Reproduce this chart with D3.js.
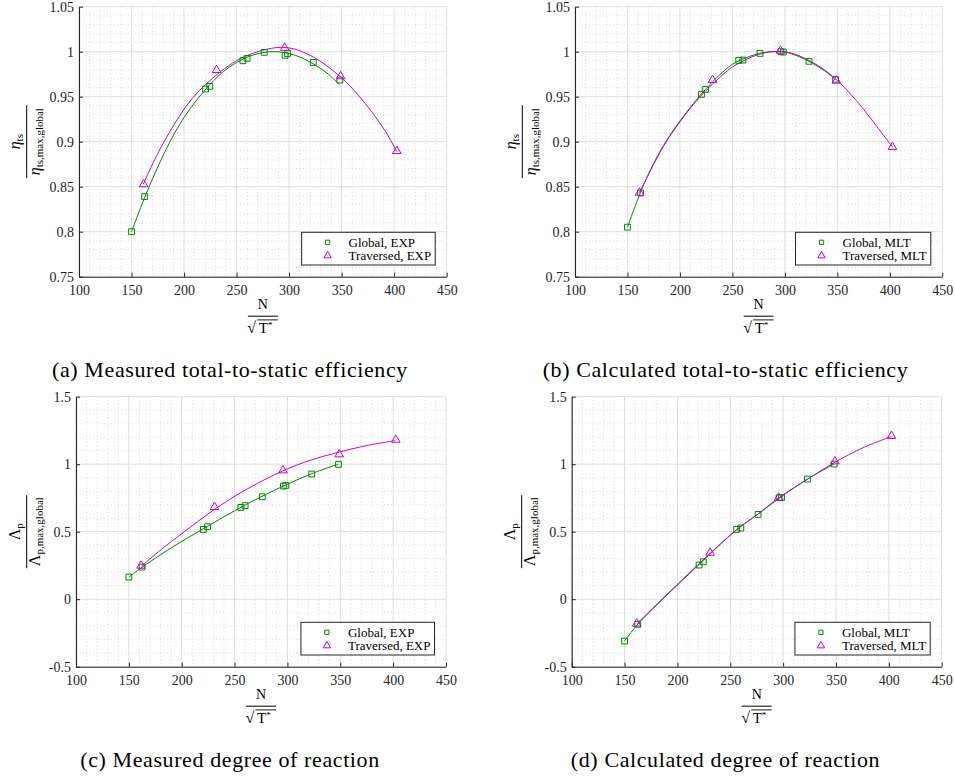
<!DOCTYPE html>
<html>
<head>
<meta charset="utf-8">
<script src="https://cdn.jsdelivr.net/npm/d3@7"></script>
<style>
  body { margin: 0; background: #fff; }
  svg text { font-family: "Liberation Serif", "Times New Roman", serif; }
</style>
</head>
<body>
<svg id="fig" width="955" height="778"></svg>
<script>
// speed parameter N / sqrt(T*) of the operating points
const nGlobal = [150, 162.5, 220.5, 224.5, 256, 260, 276.3, 296.2, 298.5, 323, 348.3]
const nTraversed = [161.5, 231, 295.8, 349, 402.5]

// normalised total-to-static efficiency
const effGlobalExp = [0.800, 0.839, 0.9585, 0.9615, 0.990, 0.9926, 0.9993, 0.996, 0.998, 0.988, 0.9685]
const effTravExp = [0.8526, 0.9796, 1.0044, 0.9726, 0.8896]
const effGlobalMlt = [0.805, 0.843, 0.9526, 0.9581, 0.9904, 0.9907, 0.9981, 1.0, 0.9996, 0.9893, 0.9693]
const effTravMlt = [0.8433, 0.9685, 1.0011, 0.9678, 0.8941]

// normalised degree of reaction
const reacGlobalExp = [0.164, 0.238, 0.517, 0.537, 0.680, 0.693, 0.759, 0.838, 0.843, 0.927, 0.999]
const reacTravExp = [0.248, 0.683, 0.954, 1.073, 1.181]
const reacGlobalMlt = [-0.310, -0.186, 0.253, 0.277, 0.517, 0.527, 0.628, 0.752, 0.752, 0.890, 1.001]
const reacTravMlt = [-0.181, 0.344, 0.752, 1.021, 1.209]

// fitted trend lines as [N, value]
const fitEffGlobalExp = [[150, 0.800], [162.5, 0.838], [175, 0.872], [187.5, 0.902], [200, 0.927], [212.5, 0.947],
  [225, 0.964], [237.5, 0.978], [250, 0.988], [262.5, 0.995], [275, 0.999], [287.5, 1.000], [300, 0.998],
  [312.5, 0.993], [325, 0.985], [337.5, 0.975], [348, 0.963]]
const fitEffTravExp = [[161.2, 0.853], [175, 0.887], [190, 0.918], [205, 0.944], [220, 0.963], [235, 0.978],
  [250, 0.990], [265, 0.998], [280, 1.003], [292, 1.0048], [305, 1.003], [320, 0.996], [335, 0.985],
  [350, 0.971], [365, 0.953], [380, 0.931], [392, 0.911], [402.4, 0.889]]
const fitEffGlobalMlt = [[150, 0.805], [162.5, 0.844], [175, 0.876], [187.5, 0.902], [200, 0.923], [212.5, 0.942],
  [225, 0.959], [237.5, 0.974], [250, 0.986], [262.5, 0.993], [275, 0.998], [287.5, 1.000], [300, 0.9995],
  [312.5, 0.995], [325, 0.988], [337.5, 0.979], [348.4, 0.969]]
const fitEffTravMlt = [[161.3, 0.843], [175, 0.875], [187.5, 0.901], [200, 0.922], [212.5, 0.941], [225, 0.957],
  [237.5, 0.971], [250, 0.983], [262.5, 0.991], [275, 0.997], [287.5, 1.000], [300, 1.000], [312.5, 0.996],
  [325, 0.989], [337.5, 0.980], [350, 0.968], [362.5, 0.953], [375, 0.936], [387.5, 0.917], [402.7, 0.894]]
const fitReacGlobalExp = [[150, 0.164], [162.4, 0.236], [190, 0.38], [220, 0.52], [250, 0.655],
  [276, 0.762], [300, 0.852], [323, 0.93], [348, 1.0]]
const fitReacTravExp = [[162, 0.245], [181, 0.37], [200, 0.485], [231, 0.665], [260, 0.808],
  [295.5, 0.95], [322, 1.03], [349, 1.09], [375, 1.138], [402, 1.175]]
const fitReacGlobalMlt = [[150, -0.31], [162, -0.19], [190, 0.03], [220, 0.253], [256, 0.515],
  [276, 0.628], [297, 0.752], [323, 0.89], [348, 1.0]]
const fitReacTravMlt = [[161.5, -0.183], [190, 0.035], [231, 0.34], [256, 0.515], [276, 0.63],
  [296, 0.752], [323, 0.888], [349, 1.015], [375, 1.12], [402.4, 1.205]]

const xTicks = [100, 150, 200, 250, 300, 350, 400, 450]
const effTicks = [0.75, 0.8, 0.85, 0.9, 0.95, 1, 1.05]
const reacTicks = [-0.5, 0, 0.5, 1, 1.5]

const green = '#008a00'
const magenta = '#cc00cc'
const axisColor = '#262626'

const panels = [
  { left: 79, top: 6.7, width: 367.7, height: 270, labelX: 26.7, yDomain: [0.75, 1.05], yTicks: effTicks, minorCount: 30,
    sym: 'η', symItalic: true, sub: 'ts', tag: 'EXP', g: effGlobalExp, t: effTravExp, fitG: fitEffGlobalExp, fitT: fitEffTravExp,
    caption: '(a) Measured total-to-static efficiency', capX: 230, capY: 377.3 },
  { left: 575, top: 6.7, width: 367.3, height: 270, labelX: 522.3, yDomain: [0.75, 1.05], yTicks: effTicks, minorCount: 30,
    sym: 'η', symItalic: true, sub: 'ts', tag: 'MLT', g: effGlobalMlt, t: effTravMlt, fitG: fitEffGlobalMlt, fitT: fitEffTravMlt,
    caption: '(b) Calculated total-to-static efficiency', capX: 725.5, capY: 377.3 },
  { left: 76, top: 396.7, width: 370, height: 270, labelX: 26.7, yDomain: [-0.5, 1.5], yTicks: reacTicks, minorCount: 20,
    sym: 'Λ', symItalic: false, sub: 'p', tag: 'EXP', g: reacGlobalExp, t: reacTravExp, fitG: fitReacGlobalExp, fitT: fitReacTravExp,
    caption: '(c) Measured degree of reaction', capX: 230, capY: 767 },
  { left: 571.7, top: 396.7, width: 370, height: 270, labelX: 521.7, yDomain: [-0.5, 1.5], yTicks: reacTicks, minorCount: 20,
    sym: 'Λ', symItalic: false, sub: 'p', tag: 'MLT', g: reacGlobalMlt, t: reacTravMlt, fitG: fitReacGlobalMlt, fitT: fitReacTravMlt,
    caption: '(d) Calculated degree of reaction', capX: 725.5, capY: 767 }
]

const svg = d3.select('#fig')

const square = d3.symbol().type(d3.symbolSquare)
const triangle = d3.symbol().type(d3.symbolTriangle)

panels.forEach(drawPanel)

function drawPanel (p) {
  const x = d3.scaleLinear().domain([100, 450]).range([p.left, p.left + p.width])
  const y = d3.scaleLinear().domain(p.yDomain).range([p.top + p.height, p.top])
  const bottom = p.top + p.height
  const right = p.left + p.width
  const g = svg.append('g')

  // minor grid (dotted)
  const xMinor = x.ticks(35).filter(v => !xTicks.includes(v))
  const yMinor = y.ticks(p.minorCount).filter(v => !p.yTicks.some(t => Math.abs(t - v) < 1e-9))
  g.selectAll('.xminor').data(xMinor).enter().append('line')
    .attr('x1', d => x(d)).attr('x2', d => x(d))
    .attr('y1', p.top).attr('y2', bottom)
    .attr('stroke', '#cfcfcf').attr('stroke-width', 0.8).attr('stroke-dasharray', '1,2.5')
  g.selectAll('.yminor').data(yMinor).enter().append('line')
    .attr('x1', p.left).attr('x2', right)
    .attr('y1', d => y(d)).attr('y2', d => y(d))
    .attr('stroke', '#cfcfcf').attr('stroke-width', 0.8).attr('stroke-dasharray', '1,2.5')

  // major grid
  g.selectAll('.xmajor').data(xTicks).enter().append('line')
    .attr('x1', d => x(d)).attr('x2', d => x(d))
    .attr('y1', p.top).attr('y2', bottom)
    .attr('stroke', '#dedede').attr('stroke-width', 1)
  g.selectAll('.ymajor').data(p.yTicks).enter().append('line')
    .attr('x1', p.left).attr('x2', right)
    .attr('y1', d => y(d)).attr('y2', d => y(d))
    .attr('stroke', '#dedede').attr('stroke-width', 1)

  // axes with inward ticks
  const xAxis = g.append('g')
    .attr('transform', 'translate(0,' + bottom + ')')
    .call(d3.axisBottom(x).tickValues(xTicks).tickSizeInner(-4).tickSizeOuter(0).tickPadding(8).tickFormat(d => String(d)))
  const yAxis = g.append('g')
    .attr('transform', 'translate(' + p.left + ',0)')
    .call(d3.axisLeft(y).tickValues(p.yTicks).tickSizeInner(-4).tickSizeOuter(0).tickPadding(5).tickFormat(d => String(d)))
  ;[xAxis, yAxis].forEach(a => {
    a.select('.domain').attr('stroke', axisColor).attr('stroke-width', 1.1)
    a.selectAll('.tick line').attr('stroke', axisColor)
    a.selectAll('.tick text').attr('fill', axisColor)
      .style('font-family', '"Liberation Serif", serif').style('font-size', '14px')
  })

  // fit lines
  const line = d3.line().x(d => x(d[0])).y(d => y(d[1])).curve(d3.curveCatmullRom.alpha(0.5))
  g.append('path').datum(p.fitG).attr('d', line)
    .attr('fill', 'none').attr('stroke', green).attr('stroke-width', 1)
  g.append('path').datum(p.fitT).attr('d', line)
    .attr('fill', 'none').attr('stroke', magenta).attr('stroke-width', 1)

  // markers
  g.selectAll('.sq').data(p.g).enter().append('path')
    .attr('d', square.size(34))
    .attr('transform', (d, i) => 'translate(' + x(nGlobal[i]) + ',' + y(d) + ')')
    .attr('fill', 'none').attr('stroke', green).attr('stroke-width', 1)
  g.selectAll('.tri').data(p.t).enter().append('path')
    .attr('d', triangle.size(32))
    .attr('transform', (d, i) => 'translate(' + x(nTraversed[i]) + ',' + y(d) + ')')
    .attr('fill', 'none').attr('stroke', magenta).attr('stroke-width', 1)

  // legend
  const legend = g.append('g')
  const labels = ['Global, ' + p.tag, 'Traversed, ' + p.tag]
  const texts = legend.selectAll('text').data(labels).enter().append('text')
    .attr('y', (d, i) => 14.6 + i * 13.4)
    .attr('x', 47)
    .attr('fill', '#000')
    .style('font-size', '13px')
    .text(d => d)
  let w = 0
  texts.each(function () { w = Math.max(w, this.getComputedTextLength()) })
  const boxW = 47 + w + 4
  const boxH = 32.7
  const boxX = right - 11.5 - boxW
  const boxY = bottom - 11.7 - boxH
  legend.attr('transform', 'translate(' + boxX + ',' + boxY + ')')
  legend.insert('rect', 'text')
    .attr('width', boxW).attr('height', boxH)
    .attr('fill', '#fff').attr('stroke', axisColor).attr('stroke-width', 1)
  legend.append('path').attr('d', square.size(18))
    .attr('transform', 'translate(26,10)')
    .attr('fill', 'none').attr('stroke', green).attr('stroke-width', 1)
  legend.append('path').attr('d', triangle.size(24))
    .attr('transform', 'translate(26,23.4)')
    .attr('fill', 'none').attr('stroke', magenta).attr('stroke-width', 1)

  // x label: N / sqrt(T*)
  const cx = p.left + p.width / 2
  const xl = g.append('g').attr('fill', '#000')
  xl.append('text').attr('x', cx).attr('y', bottom + 32.3)
    .attr('text-anchor', 'middle').style('font-size', '14px').text('N')
  xl.append('line').attr('x1', cx - 15).attr('x2', cx + 15)
    .attr('y1', bottom + 39.5).attr('y2', bottom + 39.5)
    .attr('stroke', '#000').attr('stroke-width', 1)
  xl.append('text').attr('x', cx - 15.5).attr('y', bottom + 56.5)
    .style('font-size', '16px').text('√')
  xl.append('line').attr('x1', cx - 5.5).attr('x2', cx + 15)
    .attr('y1', bottom + 43.2).attr('y2', bottom + 43.2)
    .attr('stroke', '#000').attr('stroke-width', 0.9)
  const tt = xl.append('text').attr('x', cx - 4).attr('y', bottom + 56.5).style('font-size', '15px')
  tt.append('tspan').text('T')
  tt.append('tspan').attr('dy', -5).style('font-size', '9px').text('*')

  // y label: fraction, rotated
  const cy = p.top + p.height / 2
  const yl = g.append('g').attr('transform', 'translate(' + p.labelX + ',' + cy + ') rotate(-90)')
  yl.append('line').attr('x1', -36.5).attr('x2', 36.5).attr('y1', 0).attr('y2', 0)
    .attr('stroke', '#000').attr('stroke-width', 1)
  const num = yl.append('text').attr('x', 0).attr('y', -6.5).attr('text-anchor', 'middle').attr('fill', '#000')
  num.append('tspan').style('font-size', '16px').style('font-style', p.symItalic ? 'italic' : 'normal').text(p.sym)
  num.append('tspan').attr('dy', 3).style('font-size', '11px').text(p.sub)
  const den = yl.append('text').attr('x', 0).attr('y', 13.5).attr('text-anchor', 'middle').attr('fill', '#000')
  den.append('tspan').style('font-size', '16px').style('font-style', p.symItalic ? 'italic' : 'normal').text(p.sym)
  den.append('tspan').attr('dy', 3).style('font-size', '11px').text(p.sub + ',max,global')

  // caption
  svg.append('text').attr('x', p.capX).attr('y', p.capY)
    .attr('text-anchor', 'middle').attr('fill', '#000')
    .style('font-size', '22px').style('letter-spacing', '0.6px').text(p.caption)
}
</script>
</body>
</html>
